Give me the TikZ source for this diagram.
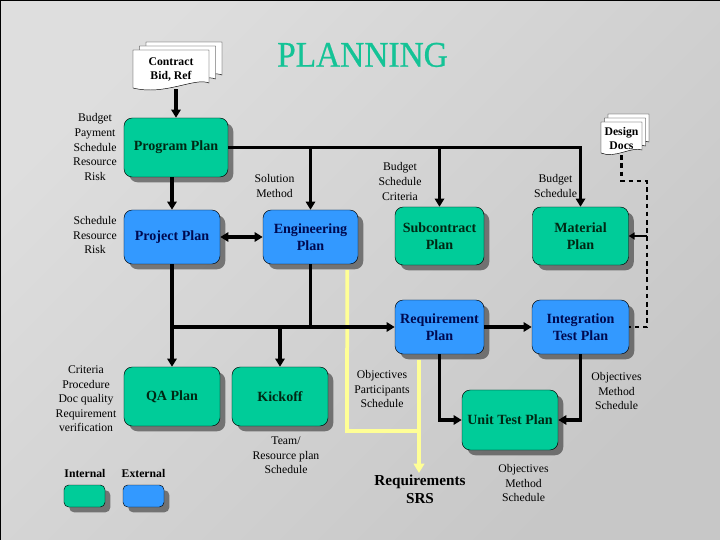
\documentclass[tikz,border=0pt]{standalone}
\usepackage{fontspec}
\setmainfont{Liberation Serif}
\newfontfamily\titlefont[FakeBold=0.7]{Liberation Serif}
\usetikzlibrary{arrows.meta,positioning,shadows}

\definecolor{intgreen}{RGB}{0,204,153}
\definecolor{extblue}{RGB}{51,153,255}
\definecolor{titlegreen}{RGB}{20,195,150}
\definecolor{srsyellow}{RGB}{255,255,150}
\definecolor{navytext}{RGB}{0,10,80}
\definecolor{greentext}{RGB}{0,40,20}

\tikzset{
  planbox/.style={draw=black,thin,rounded corners=7pt,minimum width=2.88cm,minimum height=1.7cm,
    inner sep=1pt,align=center,font=\fontsize{12}{14.5}\selectfont\bfseries,
    drop shadow={shadow xshift=4.5pt,shadow yshift=-4.5pt,opacity=0.45,fill=black}},
  intplan/.style={planbox,fill=intgreen,text=greentext},
  extplan/.style={planbox,fill=extblue,text=navytext},
  note/.style={align=center,font=\fontsize{10}{12.4}\selectfont,inner sep=0pt},
  doctext/.style={align=center,font=\fontsize{10}{12.7}\selectfont\bfseries,inner sep=0pt},
  docpage/.style={draw=black,thin,fill=white},
  flow/.style={line width=2.6pt,-{Triangle[length=7pt,width=8pt]}},
  both/.style={line width=2.6pt,{Triangle[length=7pt,width=8pt]}-{Triangle[length=7pt,width=8pt]}},
  link/.style={line width=2.6pt},
  docflow/.style={line width=2pt,dash pattern=on 4pt off 3pt},
  srsline/.style={line width=3.2pt,srsyellow},
}

\begin{document}
\begin{tikzpicture}[x=0.03cm,y=-0.03cm]
  \useasboundingbox (0,0) rectangle (720,540);
  \shade[top color=black!13,bottom color=black!22,shading angle=45] (0,0) rectangle (720,540);
  \draw[line width=1.5pt] (0,540) -- (0,0) -- (720,0);

  \node[text=titlegreen,font=\titlefont\fontsize{28.5}{30}\selectfont,anchor=base] (title) at (362.5,66.7)
    {\scalebox{1}[1.08]{PLANNING}};

  % document stacks
  \foreach \dx/\dy in {13/-8,6.5/-4,0/0}{
    \draw[docpage,shift={(\dx,\dy)}] (133,50) -- (209,50) -- (209,83)
      .. controls (195,77) and (165,96) .. (133,88) -- cycle;
  }
  \node[doctext,minimum width=2.28cm,minimum height=1.17cm] (contract) at (171,69.5) {Contract\\Bid, Ref};
  \foreach \dx/\dy in {7/-8,3.5/-4,0/0}{
    \draw[docpage,shift={(\dx,\dy)}] (601,122) -- (642,122) -- (642,150)
      .. controls (632,146) and (615,159) .. (601,153) -- cycle;
  }
  \node[doctext,minimum width=1.23cm,minimum height=0.99cm] (design) at (621.5,138.5) {Design\\Docs};

  % plans
  \node[intplan,minimum width=3.12cm,minimum height=1.77cm] (program) at (176,147.5) {Program Plan};
  \node[extplan,minimum height=1.62cm] (project) at (172,237) {Project Plan};
  \node[extplan,minimum width=2.85cm,minimum height=1.62cm] (engineering) at (310.5,237) {Engineering\\Plan};
  \node[intplan,minimum width=2.67cm,minimum height=1.74cm] (subcontract) at (439.5,236) {Subcontract\\Plan};
  \node[intplan,minimum height=1.74cm] (material) at (580.5,236) {Material\\Plan};
  \node[extplan,minimum width=2.67cm,minimum height=1.62cm] (requirement) at (439.5,327) {Requirement\\Plan};
  \node[extplan,minimum width=2.91cm,minimum height=1.62cm] (integration) at (580.5,327) {Integration\\Test Plan};
  \node[intplan,minimum height=1.8cm] (unittest) at (510,420) {Unit Test Plan};
  \node[intplan,minimum height=1.77cm] (qa) at (172,396.5) {QA Plan};
  \node[intplan,minimum height=1.77cm] (kickoff) at (280,396.5) {Kickoff};

  % legend
  \node[intplan,minimum width=1.23cm,minimum height=0.66cm,rounded corners=4pt] (legint) at (84.5,496) {};
  \node[extplan,minimum width=1.23cm,minimum height=0.66cm,rounded corners=4pt] (legext) at (143.5,496) {};
  \node[doctext] (intname) at (85,473) {Internal};
  \node[doctext] (extname) at (143.5,473) {External};

  % inputs of each plan
  \node[note] (progneeds) at (95,147) {Budget\\Payment\\Schedule\\Resource\\Risk};
  \node[note] (projneeds) at (95,235) {Schedule\\Resource\\Risk};
  \node[note] (engneeds) at (274.5,186) {Solution\\Method};
  \node[note] (subneeds) at (400,181.5) {Budget\\Schedule\\Criteria};
  \node[note] (matneeds) at (555.5,186) {Budget\\Schedule};
  \node[note] (qaneeds) at (86,399) {Criteria\\Procedure\\Doc quality\\Requirement\\verification};
  \node[note] (kickneeds) at (286,455.5) {Team/\\Resource plan\\Schedule};
  \node[note] (reqneeds) at (382,389) {Objectives\\Participants\\Schedule};
  \node[note] (intneeds) at (616.5,391) {Objectives\\Method\\Schedule};
  \node[note] (unitneeds) at (523.5,483) {Objectives\\Method\\Schedule};

  % requirements output
  \node[font=\fontsize{13}{15.7}\selectfont\bfseries,align=center,anchor=north,inner sep=1.5pt] (srs) at (420,473)
    {Requirements\\SRS};
  \coordinate (yleft) at (347,431);
  \coordinate (yjoin) at (419,431);
  \coordinate (ybot) at (419,360);
  \draw[srsline] ([xshift=-0.33cm,yshift=-5pt]engineering.south east) -- (yleft) -- (yjoin);
  \draw[srsline,-{Triangle[length=8pt,width=9pt]}] (ybot) -- (srs.north -| ybot);

  % connectors
  \draw[flow] (program.north |- contract.south) -- (program.north);
  \draw[flow] (project.north |- program.south) -- (project.north);
  \draw[flow] (program.east) -| (material.north);
  \draw[flow] (engineering.north |- program.east) -- (engineering.north);
  \draw[flow] (subcontract.north |- program.east) -- (subcontract.north);
  \draw[both] (project.east) -- (engineering.west);
  \draw[flow] (project.south) |- (requirement.west);
  \draw[link] (engineering.south) -- (engineering.south |- requirement.west);
  \draw[flow] (qa.north |- requirement.west) -- (qa.north);
  \draw[flow] (kickoff.north |- requirement.west) -- (kickoff.north);
  \draw[flow] (requirement.east) -- (integration.west);
  \draw[flow] (requirement.south) |- (unittest.west);
  \draw[flow] (integration.south) |- (unittest.east);

  \coordinate (dd) at (647,181);
  \draw[docflow] (design.south) |- (dd) -- (dd |- integration.east) -- (integration.east);
  \draw[line width=2pt,-{Triangle[length=5pt,width=6pt]}] (dd |- material.east) -- (material.east);
\end{tikzpicture}
\end{document}
